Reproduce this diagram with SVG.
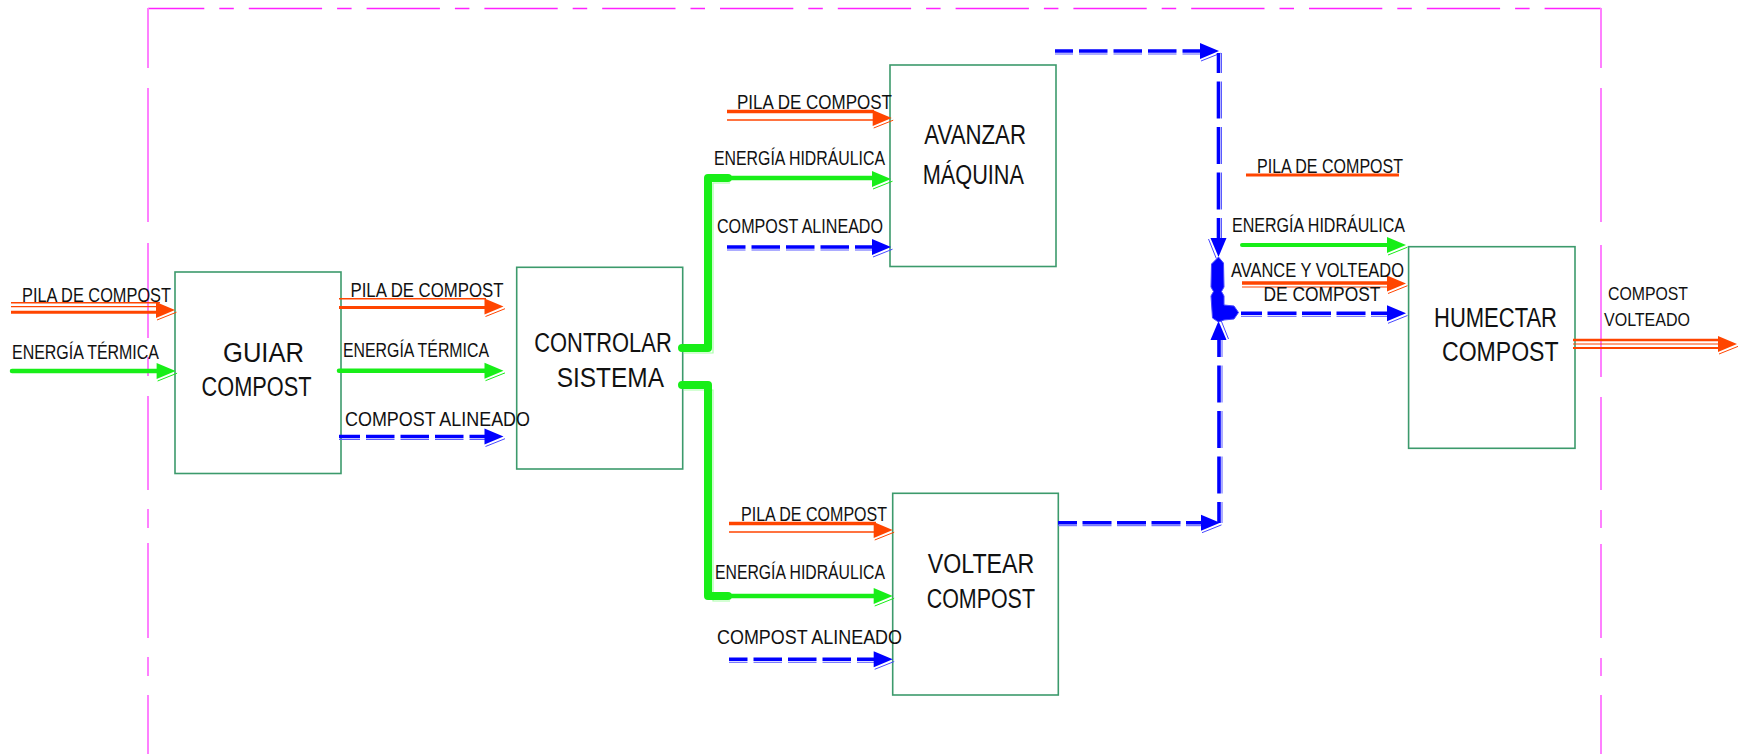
<svg xmlns="http://www.w3.org/2000/svg" width="1738" height="754" viewBox="0 0 1738 754">
<style>
.bg{fill:#fff}
.box{fill:none;stroke:#3c9a6c;stroke-width:1.6}
.t{font-family:"Liberation Sans",Arial,sans-serif;fill:#111}
.lab{font-size:20px}
.ttl{font-size:27px}
.sm{font-size:18px}
.frame{fill:none;stroke:#ff22ff;stroke-width:1.6}
.framev{fill:none;stroke:#ff80ff;stroke-width:2}
.red{fill:none;stroke:#ff4500}
.grn{fill:none;stroke:#18ee18;stroke-linecap:round;stroke-linejoin:round}
.grnl{fill:none;stroke:#a8ffa8}
.blu{fill:none;stroke:#0000ff;stroke-width:3.6}
.blul{fill:none;stroke:#5a5aff;stroke-width:1}
</style>
<defs>
<g id="ahR"><polygon points="-19,-8 0,0 -19,8" fill="#ff4500"/><polyline points="-18,10 1.5,2.2" fill="none" stroke="#ff4500" stroke-width="1"/></g>
<g id="ahG"><polygon points="-19,-8 0,0 -19,8" fill="#18ee18"/><polyline points="-18,10 1.5,2.2" fill="none" stroke="#18ee18" stroke-width="1"/></g>
<g id="ahB"><polygon points="-19,-8 0,0 -19,8" fill="#0000ff"/><polyline points="-18,10 1.5,2.2" fill="none" stroke="#4848ff" stroke-width="1"/></g>
</defs>
<rect class="bg" x="0" y="0" width="1738" height="754"/>

<g id="frame">
<path class="frame" d="M148,8.5 H1601" stroke-dasharray="73.3 15 14.5 15" stroke-dashoffset="17"/>
<path class="framev" d="M148,8 V68 M148,88 V222 M148,243 V338 M148,357 V376 M148,396 V490 M148,509 V528 M148,543 V638 M148,657 V676 M148,695 V754"/>
<path class="framev" d="M1601,8 V68 M1601,88 V222 M1601,245 V377 M1601,397 V490 M1601,510 V528 M1601,544 V638 M1601,658 V676 M1601,695 V754"/>
</g>

<g id="guiar">
<rect class="box" x="175" y="272" width="166" height="201.5"/>
<text class="t ttl" x="223" y="361.5" textLength="81" lengthAdjust="spacingAndGlyphs">GUIAR</text>
<text class="t ttl" x="201.5" y="396" textLength="110" lengthAdjust="spacingAndGlyphs">COMPOST</text>
</g>

<g id="controlar">
<rect class="box" x="516.7" y="267.3" width="166" height="201.7"/>
<text class="t ttl" x="534.3" y="351.7" textLength="137.4" lengthAdjust="spacingAndGlyphs">CONTROLAR</text>
<text class="t ttl" x="556.7" y="387.3" textLength="107.3" lengthAdjust="spacingAndGlyphs">SISTEMA</text>
</g>

<g id="avanzar">
<rect class="box" x="890" y="65" width="166" height="201.5"/>
<text class="t ttl" x="924.3" y="144.3" textLength="101.7" lengthAdjust="spacingAndGlyphs">AVANZAR</text>
<text class="t ttl" x="922.7" y="184.3" textLength="101.3" lengthAdjust="spacingAndGlyphs">MÁQUINA</text>
</g>

<g id="voltear">
<rect class="box" x="892.7" y="493.3" width="165.6" height="201.7"/>
<text class="t ttl" x="927.7" y="572.7" textLength="106.6" lengthAdjust="spacingAndGlyphs">VOLTEAR</text>
<text class="t ttl" x="926.7" y="607.7" textLength="108.3" lengthAdjust="spacingAndGlyphs">COMPOST</text>
</g>

<g id="humectar">
<rect class="box" x="1408.6" y="246.7" width="166.4" height="201.6"/>
<text class="t ttl" x="1434" y="326.7" textLength="123" lengthAdjust="spacingAndGlyphs">HUMECTAR</text>
<text class="t ttl" x="1442" y="361" textLength="116.6" lengthAdjust="spacingAndGlyphs">COMPOST</text>
</g>

<g id="connectors">
<!-- red flows -->
<path class="red" stroke-width="1.4" d="M11,302.7 H160"/>
<path class="red" stroke-width="1.2" d="M11,306.7 H160"/>
<path class="red" stroke-width="3" d="M11,312.2 H160"/>
<use href="#ahR" x="175" y="310"/>

<path class="red" stroke-width="1.5" d="M339,298.7 H486"/>
<path class="red" stroke-width="3" d="M339,307.5 H486"/>
<use href="#ahR" x="503.5" y="306.5"/>

<path class="red" stroke-width="3.5" d="M727,111.5 H874"/>
<path class="red" stroke-width="1.5" d="M727,120 H874"/>
<use href="#ahR" x="891.7" y="118"/>

<path class="red" stroke-width="3.5" d="M729,523.5 H876"/>
<path class="red" stroke-width="1.5" d="M729,532 H876"/>
<use href="#ahR" x="892.7" y="530"/>

<path class="red" stroke-width="3" d="M1246,175 H1399"/>

<path class="red" stroke-width="3.5" d="M1242,283 H1390"/>
<path class="red" stroke-width="1.2" d="M1242,287 H1390"/>
<use href="#ahR" x="1406" y="283.5"/>

<path class="red" stroke-width="2.5" d="M1573,340 H1720"/>
<path class="red" stroke-width="1" d="M1573,344 H1720"/>
<path class="red" stroke-width="2" d="M1573,348 H1720"/>
<use href="#ahR" x="1737" y="344"/>

<!-- green flows -->
<path class="grn" stroke-width="4.5" d="M12,371 H159"/>
<use href="#ahG" x="175.6" y="371"/>
<path class="grn" stroke-width="4.5" d="M339,370.7 H486"/>
<use href="#ahG" x="503.5" y="370.7"/>

<path class="grnl" stroke-width="1.2" d="M684,353 H713 V183 H730"/>
<path class="grn" stroke-width="8" d="M682,348 H708 V178 H728"/>
<path class="grn" stroke-width="4.5" d="M708,178 H874"/>
<use href="#ahG" x="891" y="179"/>

<path class="grnl" stroke-width="1.2" d="M684,390 H713 V601 H730"/>
<path class="grn" stroke-width="8" d="M682,385 H708 V596 H728"/>
<path class="grn" stroke-width="4.5" d="M708,596 H876"/>
<use href="#ahG" x="892.7" y="596"/>

<path class="grn" stroke-width="4" d="M1242,245 H1390"/>
<use href="#ahG" x="1406" y="245"/>

<!-- blue flows -->
<path class="blu" d="M339,436.5 H486" stroke-dasharray="28.5 6" stroke-dashoffset="7.5"/>
<path class="blul" d="M339,439.5 H486" stroke-dasharray="28.5 6" stroke-dashoffset="7.5"/>
<use href="#ahB" x="503.5" y="436.5"/>

<path class="blu" d="M727,247 H874" stroke-dasharray="28.5 6" stroke-dashoffset="10"/>
<path class="blul" d="M727,250 H874" stroke-dasharray="28.5 6" stroke-dashoffset="10"/>
<use href="#ahB" x="891" y="247"/>

<path class="blu" d="M729,659.3 H876" stroke-dasharray="28.5 6" stroke-dashoffset="10"/>
<path class="blul" d="M729,662.3 H876" stroke-dasharray="28.5 6" stroke-dashoffset="10"/>
<use href="#ahB" x="892.7" y="659.3"/>

<path class="blu" d="M1055,51 H1202" stroke-dasharray="28.5 6" stroke-dashoffset="10.5"/>
<path class="blul" d="M1055,54 H1202" stroke-dasharray="28.5 6" stroke-dashoffset="10.5"/>
<use href="#ahB" x="1219" y="51"/>
<path class="blu" d="M1218.5,53 V240" stroke-dasharray="37 8.5" stroke-dashoffset="17"/>
<path class="blul" d="M1221.5,53 V240" stroke-dasharray="37 8.5" stroke-dashoffset="17"/>
<use href="#ahB" transform="translate(1218.5,257) rotate(90)"/>

<path class="blu" d="M1058,522.7 H1204" stroke-dasharray="29 5.5" stroke-dashoffset="10"/>
<path class="blul" d="M1058,525.7 H1204" stroke-dasharray="29 5.5" stroke-dashoffset="10"/>
<use href="#ahB" x="1220" y="522.7"/>
<path class="blu" d="M1219,523 V337" stroke-dasharray="37 8.5" stroke-dashoffset="16"/>
<path class="blul" d="M1222,523 V337" stroke-dasharray="37 8.5" stroke-dashoffset="16"/>
<use href="#ahB" transform="translate(1218.5,321) rotate(-90)"/>

<polygon fill="#0000ff" stroke="#4848ff" stroke-width="1" points="1218.5,257 1223.5,263 1224,287 1221.5,291.5 1224,296 1224,305 1234,306 1238.5,312.5 1234,319 1224,320 1218.5,322 1212.5,318 1211,296 1213.5,291.5 1211,287 1211.5,264"/>

<path class="blu" d="M1241,313.3 H1390" stroke-dasharray="29 5.5" stroke-dashoffset="8"/>
<path class="blul" d="M1241,316.3 H1390" stroke-dasharray="29 5.5" stroke-dashoffset="8"/>
<use href="#ahB" x="1406" y="313.3"/>

<!-- flow labels -->
<text class="t lab" x="22" y="301.5" textLength="149" lengthAdjust="spacingAndGlyphs">PILA DE COMPOST</text>
<text class="t lab" x="12" y="359" textLength="147" lengthAdjust="spacingAndGlyphs">ENERGÍA TÉRMICA</text>
<text class="t lab" x="350.5" y="296.5" textLength="153" lengthAdjust="spacingAndGlyphs">PILA DE COMPOST</text>
<text class="t lab" x="343" y="356.5" textLength="146" lengthAdjust="spacingAndGlyphs">ENERGÍA TÉRMICA</text>
<text class="t lab" x="345" y="425.5" textLength="185" lengthAdjust="spacingAndGlyphs">COMPOST ALINEADO</text>

<text class="t lab" x="737" y="109" textLength="155" lengthAdjust="spacingAndGlyphs">PILA DE COMPOST</text>
<text class="t lab" x="714" y="165" textLength="171" lengthAdjust="spacingAndGlyphs">ENERGÍA HIDRÁULICA</text>
<text class="t lab" x="717" y="233" textLength="166" lengthAdjust="spacingAndGlyphs">COMPOST ALINEADO</text>

<text class="t lab" x="741" y="520.5" textLength="146" lengthAdjust="spacingAndGlyphs">PILA DE COMPOST</text>
<text class="t lab" x="715" y="579" textLength="170" lengthAdjust="spacingAndGlyphs">ENERGÍA  HIDRÁULICA</text>
<text class="t lab" x="717" y="644.3" textLength="185" lengthAdjust="spacingAndGlyphs">COMPOST ALINEADO</text>

<text class="t lab" x="1257" y="172.5" textLength="146" lengthAdjust="spacingAndGlyphs">PILA DE  COMPOST</text>
<text class="t lab" x="1232" y="231.5" textLength="173" lengthAdjust="spacingAndGlyphs">ENERGÍA  HIDRÁULICA</text>
<text class="t lab" x="1231" y="276.5" textLength="173" lengthAdjust="spacingAndGlyphs">AVANCE Y VOLTEADO</text>
<text class="t lab" x="1263.5" y="300.5" textLength="117" lengthAdjust="spacingAndGlyphs">DE COMPOST</text>

<text class="t sm" x="1608" y="300" textLength="80" lengthAdjust="spacingAndGlyphs">COMPOST</text>
<text class="t sm" x="1604" y="326" textLength="86" lengthAdjust="spacingAndGlyphs">VOLTEADO</text>
</g>
</svg>
